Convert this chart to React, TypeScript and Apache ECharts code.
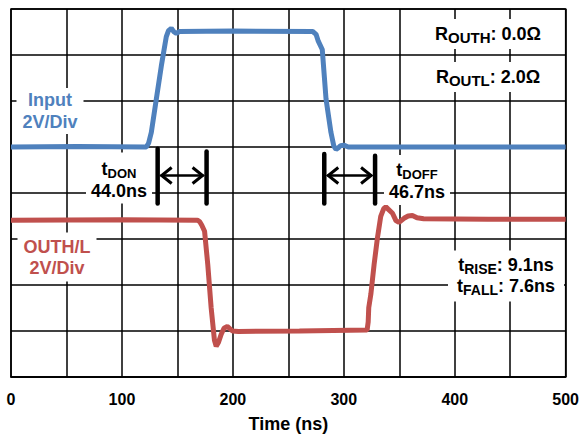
import React, { useEffect, useRef } from 'react';
import * as echarts from 'echarts';

// ---- data ----
const inputTrace: [number, number][] = [
  [0, 5.0], [60, 5.01], [122, 5.0], [124, 5.08], [126.5, 5.32], [131, 6.04], [135.5, 6.76],
  [140, 7.4], [142, 7.53], [144.5, 7.58], [147, 7.5], [149, 7.47], [152, 7.51], [200, 7.52],
  [272, 7.51], [275, 7.45], [277, 7.3], [280.6, 7.12], [284, 6.04], [288.4, 5.32], [291, 5.02],
  [293, 4.95], [295, 4.98], [297, 5.03], [300, 5.04], [304, 5.0], [500, 5.0],
];

const outputTrace: [number, number][] = [
  [0, 3.41], [100, 3.42], [168, 3.41], [170, 3.38], [172, 3.3], [174.5, 3.17], [177.4, 2.44],
  [180.4, 1.51], [183.4, 0.8], [185, 0.67], [187, 0.75], [189.5, 0.93], [192, 1.06], [195, 1.1],
  [199.6, 1.0], [205, 0.99], [260, 1.0], [321, 1.02], [322, 1.2], [322.5, 1.51], [324.4, 1.8],
  [327.3, 2.44], [330.3, 3.02], [333.3, 3.49], [336, 3.66], [337.9, 3.7], [340, 3.65],
  [343.9, 3.56], [347, 3.4], [349.8, 3.36], [354.3, 3.45], [358, 3.5], [361.8, 3.51],
  [366, 3.46], [372, 3.44], [430, 3.43], [500, 3.43],
];

// [tLeft, tRight, topLeft, topRight, bottom, arrowLevel]
const delayMarkers: number[][] = [
  [132.2, 176.3, 4.96, 4.9, 3.77, 4.38],
  [282.4, 328.2, 4.85, 4.81, 3.77, 4.38],
];

const xTickLabels = ['0', '100', '200', '300', '400', '500'];

const FONT = '"Liberation Sans", Arial, sans-serif';
const BLUE = '#4f81bd';
const RED = '#c0504d';

const mainTok = { fontSize: 18, fontWeight: 'bold', fontFamily: FONT, fill: '#000', lineHeight: 22 };
const subTok = { fontSize: 13, fontWeight: 'bold', fontFamily: FONT, fill: '#000', lineHeight: 11, verticalAlign: 'bottom' };
const rMain = { fontSize: 18, fontWeight: 'bold', fontFamily: FONT, fill: '#000', lineHeight: 22 };
const rSub = { fontSize: 15, fontWeight: 'bold', fontFamily: FONT, fill: '#000', lineHeight: 8, verticalAlign: 'bottom' };

function label(x: number, y: number, text: string, opts: any) {
  return {
    type: 'text',
    x,
    y,
    z: 1,
    style: {
      text,
      align: opts.align || 'center',
      textAlign: opts.align || 'center',
      verticalAlign: 'middle',
      fontSize: 18,
      fontWeight: 'bold',
      fontFamily: FONT,
      fill: opts.fill || '#000',
      lineHeight: opts.lineHeight || 22,
      backgroundColor: '#fff',
      padding: opts.padding || [2, 5, 2, 5],
      rich: opts.rich,
    },
  };
}

export default function App() {
  const ref = useRef<HTMLDivElement>(null);
  useEffect(() => {
    if (!ref.current) return;
    const chart = echarts.init(ref.current, undefined, { renderer: 'svg' });
    const option: any = {
      animation: false,
      backgroundColor: '#fff',
      grid: {
        left: 11, right: 15, top: 9, bottom: 58,
        show: true, borderColor: '#000', borderWidth: 1.5,
      },
      xAxis: {
        type: 'value', min: 0, max: 500, interval: 50,
        name: 'Time (ns)', nameLocation: 'middle', nameGap: 38,
        nameTextStyle: { fontSize: 18, fontWeight: 'bold', fontFamily: FONT, color: '#000' },
        axisLine: { show: true, lineStyle: { color: '#000', width: 1.5 } },
        axisTick: { show: false },
        axisLabel: {
          margin: 14, fontSize: 16, fontWeight: 'bold', fontFamily: FONT, color: '#000',
          formatter: (v: number) => (xTickLabels.includes(String(v)) ? String(v) : ''),
        },
        splitLine: { show: true, lineStyle: { color: '#000', width: 1.5 } },
      },
      yAxis: {
        type: 'value', min: 0, max: 8, interval: 1,
        axisLine: { show: false }, axisTick: { show: false }, axisLabel: { show: false },
        splitLine: { show: true, lineStyle: { color: '#000', width: 1.5 } },
      },
      series: [
        {
          type: 'line', name: 'Input', data: inputTrace, showSymbol: false, symbol: 'none',
          lineStyle: { color: BLUE, width: 5 }, z: 3,
        },
        {
          type: 'line', name: 'OUTH/L', data: outputTrace, showSymbol: false, symbol: 'none',
          lineStyle: { color: RED, width: 5 }, z: 3,
        },
        {
          type: 'custom', name: 'delays', data: delayMarkers, z: 4,
          encode: { x: [0, 1], y: [2, 3, 4, 5] },
          renderItem: (_params: any, api: any) => {
            const tl = api.coord([api.value(0), api.value(2)]);
            const tr = api.coord([api.value(1), api.value(3)]);
            const bl = api.coord([api.value(0), api.value(4)]);
            const br = api.coord([api.value(1), api.value(4)]);
            const ya = api.coord([api.value(0), api.value(5)])[1];
            const lx = tl[0];
            const rx = tr[0];
            const bar = { stroke: '#000', lineWidth: 4.5, lineCap: 'round' };
            const head = { stroke: '#000', lineWidth: 3, fill: null, lineJoin: 'miter' };
            return {
              type: 'group',
              children: [
                { type: 'line', shape: { x1: lx, y1: tl[1], x2: lx, y2: bl[1] }, style: bar },
                { type: 'line', shape: { x1: rx, y1: tr[1], x2: rx, y2: br[1] }, style: bar },
                { type: 'line', shape: { x1: lx + 3, y1: ya, x2: rx - 3, y2: ya }, style: { stroke: '#000', lineWidth: 2.5 } },
                { type: 'polyline', shape: { points: [[lx + 14, ya - 8], [lx + 4, ya], [lx + 14, ya + 8]] }, style: head },
                { type: 'polyline', shape: { points: [[rx - 14, ya - 8], [rx - 4, ya], [rx - 14, ya + 8]] }, style: head },
              ],
            };
          },
        },
      ],
      graphic: [
        label(50, 111, 'Input\n2V/Div', { fill: BLUE, padding: [1, 6, 1, 6] }),
        label(57, 257, 'OUTH/L\n2V/Div', { fill: RED, lineHeight: 21, padding: [5, 6, 2, 6] }),
        label(119, 178, '{m|t}{s|DON}\n{m|44.0ns}', { rich: { m: mainTok, s: subTok }, padding: [5, 5, 2, 5] }),
        label(417, 180, '{m|t}{s|DOFF}\n{m|46.7ns}', { rich: { m: mainTok, s: subTok }, padding: [4, 5, 2, 5] }),
        label(488, 34, '{m|R}{s|OUTH}{m|: 0.0Ω}', { rich: { m: rMain, s: rSub }, padding: [4, 5, 4, 5] }),
        label(488, 77, '{m|R}{s|OUTL}{m|: 2.0Ω}', { rich: { m: rMain, s: rSub }, padding: [4, 5, 4, 5] }),
        label(506, 276, '{m|t}{s|RISE}{m|: 9.1ns}\n{m|t}{s|FALL}{m|: 7.6ns}', {
          rich: {
            m: { ...mainTok, lineHeight: 21 },
            s: { ...subTok, fontSize: 14 },
          },
          padding: [4, 9, 5, 9],
        }),
      ],
    };
    chart.setOption(option);
    return () => chart.dispose();
  }, []);
  return <div ref={ref} style={{ position: 'absolute', left: 0, top: 0, width: 582, height: 438 }} />;
}
